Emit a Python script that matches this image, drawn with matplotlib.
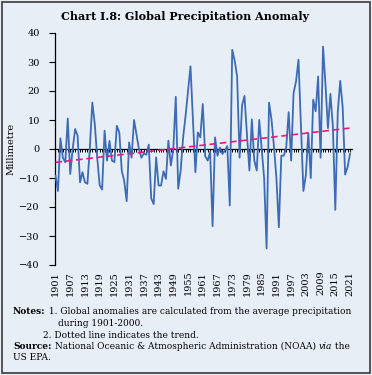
import numpy as np
import matplotlib
matplotlib.use("Agg")
import matplotlib.pyplot as plt
from matplotlib.patches import Rectangle

# Global precipitation anomaly (mm), 1901-2021
years = np.arange(1901, 2022)
anomaly = [
    -9.2, -14.5, 3.7, -3.0, -4.6, 10.5, -8.6, 0.0, 6.9, 4.6,          # 1901-1910
    -11.5, -8.0, -11.5, -12.0, 0.5, 16.0, 8.6, -3.0, -12.5, -14.0,    # 1911-1920
    6.3, -4.0, 2.8, -4.0, -4.5, 8.0, 5.7, -7.5, -11.0, -18.0,         # 1921-1930
    2.3, -3.0, 10.0, 5.0, 0.0, -3.0, -1.5, -2.0, 1.5, -17.0,          # 1931-1940
    -19.0, -2.9, -12.6, -12.6, -7.7, -10.3, 2.9, -5.7, 0.0, 18.0,     # 1941-1950
    -13.7, -7.4, 4.0, 11.5, 20.0, 28.5, 10.0, -8.0, 5.7, 4.0,         # 1951-1960
    15.5, -2.5, -4.0, -1.0, -26.6, 4.0, -2.3, 0.5, -1.7, -0.6,        # 1961-1970
    1.0, -19.5, 34.2, 30.5, 25.0, -3.0, 15.0, 18.3, 5.0, -7.4,        # 1971-1980
    10.2, -4.0, -7.4, 10.0, 0.0, -10.0, -34.3, 16.0, 10.2, 1.0,       # 1981-1990
    -10.0, -27.0, -2.3, -2.3, 0.5, 12.7, -4.0, 19.3, 23.3, 30.8,      # 1991-2000
    8.0, -14.5, -9.0, 5.5, -10.0, 17.0, 13.0, 25.0, -3.0, 35.3,       # 2001-2010
    22.0, 7.2, 19.0, 7.8, -21.0, 12.7, 23.5, 14.5, -8.8, -6.2,        # 2011-2020
    -1.7,                                                              # 2021
]
label_years = list(range(1901, 2022, 6))
y_ticks = list(range(-40, 41, 10))

bg = "#E8EEF6"
line_col = "#3D6CB5"
trend_col = "#E8197F"
plt.rcParams["font.family"] = "DejaVu Serif"

fig = plt.figure(figsize=(3.72, 3.75), dpi=100)
fig.patch.set_facecolor(bg)
fig.add_artist(Rectangle((0.005, 0.005), 0.99, 0.99, transform=fig.transFigure,
                         fill=False, edgecolor="#3a3a3a", lw=1.2))

ax = fig.add_axes([55 / 372, 1 - 265 / 375, 297 / 372, 232 / 375])
ax.set_facecolor(bg)

ax.plot(years, anomaly, color=line_col, lw=1.3, zorder=3)
# linear trend
coef = np.polyfit(years, anomaly, 1)
ax.plot(years, np.polyval(coef, years), color=trend_col, lw=1.2,
        ls=(0, (4, 2.2)), zorder=4)

ax.set_xlim(1900.8, 2021.8)
ax.set_ylim(-40, 40)

for s in ["top", "right"]:
    ax.spines[s].set_visible(False)
ax.spines["bottom"].set_position(("data", 0))
ax.spines["bottom"].set_linewidth(0.9)
ax.spines["left"].set_linewidth(0.9)

ax.set_xticks(years)
ax.set_xticklabels([])
ax.tick_params(axis="x", direction="out", length=2.5, width=0.7, color="black")
ax.set_yticks(y_ticks)
ax.tick_params(axis="y", direction="out", length=4, width=0.8, labelsize=7, pad=7)

for yr in label_years:
    ax.text(yr, -0.025, str(yr), transform=ax.get_xaxis_transform(),
            rotation=90, ha="center", va="top", fontsize=7)

ax.set_ylabel("Millimetre", fontsize=7, labelpad=3)

fig.text(0.497, 1 - 17 / 375, "Chart I.8: Global Precipitation Anomaly",
         ha="center", va="center", fontsize=8, weight="bold")

# notes and source
fs = 6.45
r = fig.canvas.get_renderer()


def after(prev, text, y, **kw):
    # place text right after the previous text artist
    bb = prev.get_window_extent(r).transformed(fig.transFigure.inverted())
    return fig.text(bb.x1, y, text, fontsize=fs, va="center", **kw)


y1, y2, y3, y4, y5 = [1 - v / 375 for v in (312, 323.5, 335, 346.5, 358)]
notes = fig.text(13 / 372, y1, "Notes:", weight="bold", fontsize=fs, va="center")
after(notes, " 1. Global anomalies are calculated from the average precipitation", y1)
fig.text(58 / 372, y2, "during 1901-2000.", fontsize=fs, va="center")
fig.text(43 / 372, y3, "2. Dotted line indicates the trend.", fontsize=fs, va="center")
src = fig.text(13 / 372, y4, "Source:", weight="bold", fontsize=fs, va="center")
t1 = after(src, " National Oceanic & Atmospheric Administration (NOAA) ", y4)
t2 = after(t1, "via", y4, style="italic")
after(t2, " the", y4)
fig.text(13 / 372, y5, "US EPA.", fontsize=fs, va="center")

fig.savefig("out.png", dpi=100, facecolor=bg)
